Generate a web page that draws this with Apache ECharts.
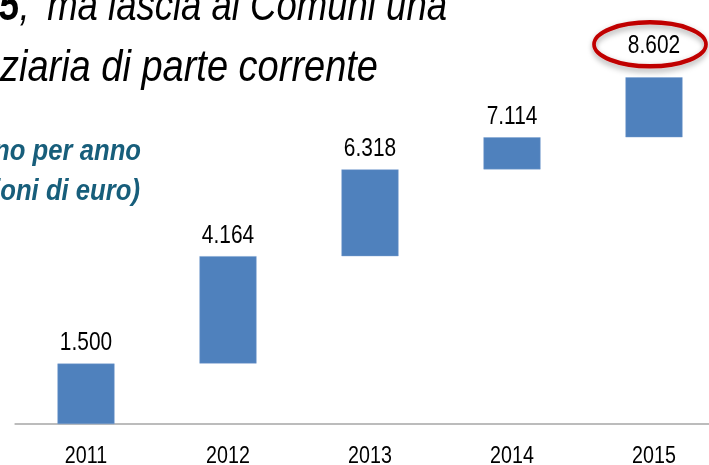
<!DOCTYPE html>
<html><head><meta charset="utf-8">
<script src="https://cdn.jsdelivr.net/npm/echarts@6/dist/echarts.min.js"></script>
<style>
html,body{margin:0;padding:0;background:#fff;overflow:hidden;width:709px;height:465px}
#wrap{width:709px;height:465px;overflow:hidden;position:relative}
#c{position:absolute;left:0;top:0;height:465px;transform-origin:0 0}
</style>
</head><body><div id="wrap"><div id="c"></div></div>
<script>
const years = ['2011', '2012', '2013', '2014', '2015'];
const totals = [1500, 4164, 6318, 7114, 8602];
const titleBold = 'Il DL 78/2010 taglia i trasferimenti fino al 2015';
const titleLine1 = ', \u2009ma lascia ai Comuni una';
const titleLine2 = 'maggiore autonomia finanziaria di parte corrente';
const noteLine1 = 'Tagli cumulati, anno per anno';
const noteLine2 = '(milioni di euro)';

// The slide's typography is horizontally condensed (Arial Narrow-like): draw in a wider
// canvas and squeeze it horizontally.
const SX = 0.82;
const W = 709 / SX;
const el = document.getElementById('c');
el.style.width = W + 'px';
el.style.transform = 'scaleX(' + SX + ')';

const FONT = "'Liberation Sans', Arial, sans-serif";
const fmt = v => String(v).replace(/\B(?=(\d{3})+(?!\d))/g, '.');
const bases = totals.map((t, i) => i ? totals[i - 1] : 0);
const deltas = totals.map((t, i) => t - bases[i]);
const last = totals.length - 1;

const chart = echarts.init(el, null, {renderer: 'svg'});
chart.setOption({
  animation: false,
  backgroundColor: '#ffffff',
  grid: {left: 15 / SX, width: 710 / SX, top: 21, bottom: 41, containLabel: false,
         outerBoundsMode: 'none'},
  xAxis: {
    type: 'category', data: years, boundaryGap: true,
    axisLine: {lineStyle: {color: '#a6a6a6', width: 1.5}},
    axisTick: {show: false},
    axisLabel: {color: '#000', fontFamily: FONT, fontSize: 24, margin: 19}
  },
  yAxis: {type: 'value', min: 0, max: 10000, show: false, splitLine: {show: false}},
  series: [
    {type: 'bar', stack: 'w', data: bases, barWidth: 57 / SX, silent: true,
     itemStyle: {color: 'rgba(0,0,0,0)'}},
    {type: 'bar', stack: 'w', barWidth: 57 / SX,
     data: deltas.map((d, i) => i === last ? {value: d, label: {offset: [0, -11]}} : d),
     itemStyle: {color: '#4f81bd', borderColor: '#7aa0d0', borderWidth: 0.5},
     label: {show: true, position: 'top', distance: 9, color: '#000',
             fontFamily: FONT, fontSize: 25.5,
             formatter: p => fmt(totals[p.dataIndex])}}
  ]
});

const peak = chart.convertToPixel({gridIndex: 0}, [last, totals[last]]);
const NS = 1.08;  // note text is slightly wider than the chart labels
chart.setOption({
  graphic: [
    {type: 'text', x: 447 / SX, y: 5, scaleX: 0.99,
     style: {text: '{b|' + titleBold + '}{n|' + titleLine1 + '}', align: 'right', verticalAlign: 'middle',
       rich: {
         b: {fontFamily: FONT, fontSize: 45, fontWeight: 'bold', fontStyle: 'italic', fill: '#000', color: '#000'},
         n: {fontFamily: FONT, fontSize: 45, fontStyle: 'italic', fill: '#000', color: '#000'}
       }}},
    {type: 'text', x: 378 / SX, y: 65, scaleX: 1.03,
     style: {text: titleLine2, align: 'right', verticalAlign: 'middle', fill: '#000',
       font: "italic 45px " + FONT}},
    {type: 'text', x: 141 / SX, y: 150, scaleX: NS,
     style: {text: noteLine1, align: 'right', verticalAlign: 'middle', fill: '#175e7b',
       font: "italic bold 29px " + FONT}},
    {type: 'text', x: 140 / SX, y: 190, scaleX: NS,
     style: {text: noteLine2, align: 'right', verticalAlign: 'middle', fill: '#175e7b',
       font: "italic bold 29px " + FONT}},
    {type: 'ellipse', shape: {cx: peak[0] - 4 / SX, cy: peak[1] - 33, rx: 56 / SX, ry: 22},
     style: {fill: 'none', stroke: '#c00000', lineWidth: 4.5,
       shadowBlur: 6, shadowColor: 'rgba(0,0,0,0.35)', shadowOffsetY: 3}}
  ]
});
</script></body></html>
